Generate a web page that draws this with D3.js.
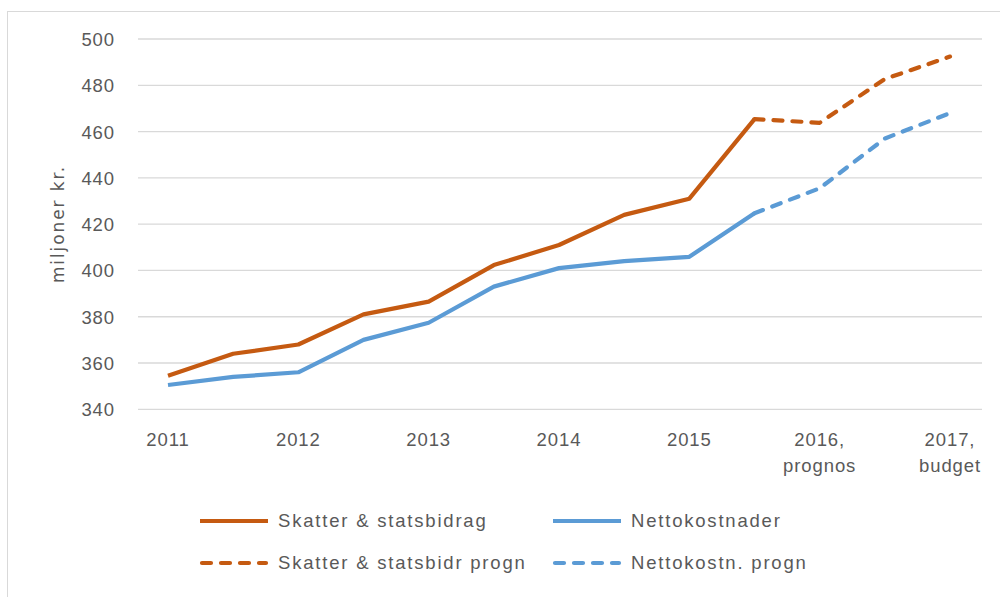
<!DOCTYPE html>
<html><head><meta charset="utf-8">
<script src="https://cdn.jsdelivr.net/npm/d3@7"></script>
<style>body{margin:0;background:#fff}svg{display:block}</style>
</head><body>
<svg id="c" width="1000" height="597"></svg>
<script>
const points = ["2011","2011b","2012","2012b","2013","2013b","2014","2014b","2015","2015b","2016","2016b","2017"];
const tickLabels = [["2011"],["2012"],["2013"],["2014"],["2015"],["2016,","prognos"],["2017,","budget"]];
const tickPoints = ["2011","2012","2013","2014","2015","2016","2017"];
const skatter = [354.5,364,368,381,386.5,402.3,411,424,431,465.4,null,null,null];
const skatterProgn = [null,null,null,null,null,null,null,null,null,465.4,463.8,482.7,492.4];
const netto = [350.5,354,356,370,377.4,393,401,404,405.9,424.7,null,null,null];
const nettoProgn = [null,null,null,null,null,null,null,null,null,424.7,435.5,457,468];
const yTicks = [340,360,380,400,420,440,460,480,500];
const seriesNames = ["Skatter & statsbidrag","Nettokostnader","Skatter & statsbidr progn","Nettokostn. progn"];

const orange = "#C55A11", blue = "#5B9BD5", txt = "#595959";
const font = "'Liberation Sans', Arial, sans-serif";
const fs = 18.5, ls = 0.9;
const svg = d3.select("#c");

svg.append("rect").attr("x",7.5).attr("y",11.5).attr("width",1000).attr("height",600)
  .attr("fill","#fff").attr("stroke","#d9d9d9").attr("stroke-width",1);

const x = d3.scalePoint().domain(points).range([168,950]);
const y = d3.scaleLinear().domain([340,500]).range([409.3,39]);

// gridlines
svg.append("g").selectAll("line").data(yTicks).join("line")
  .attr("x1",138).attr("x2",982).attr("y1",d=>y(d)).attr("y2",d=>y(d))
  .attr("stroke","#d9d9d9").attr("stroke-width",1.3);

// y axis labels
const yAxis = d3.axisLeft(y).tickValues(yTicks).tickSize(0).tickPadding(0);
const gy = svg.append("g").attr("transform","translate(115,0)").call(yAxis);
gy.select(".domain").remove();
gy.selectAll("text").attr("font-family",font).attr("font-size",fs).attr("letter-spacing",ls)
  .attr("fill",txt).attr("dy","0.35em");

// y title
svg.append("text").attr("transform","translate(64,224) rotate(-90)")
  .attr("text-anchor","middle").attr("font-family","'DejaVu Sans', sans-serif").attr("font-size",17)
  .attr("fill",txt).attr("letter-spacing",1.9).text("miljoner kr.");

// x labels
const xl = svg.append("g");
tickPoints.forEach((p,i)=>{
  const t = xl.append("text").attr("x",x(p)).attr("y",446).attr("text-anchor","middle")
    .attr("font-family",font).attr("font-size",fs).attr("letter-spacing",ls).attr("fill",txt);
  tickLabels[i].forEach((s,j)=>t.append("tspan").attr("x",x(p)).attr("dy",j?26:0).text(s));
});

const line = d3.line().defined(d=>d!=null).x((d,i)=>x(points[i])).y(d=>y(d));
function draw(data,color,dash){
  svg.append("path").datum(data).attr("d",line).attr("fill","none").attr("stroke",color)
    .attr("stroke-width",4.2).attr("stroke-linejoin","round")
    .attr("stroke-linecap",dash?"round":"butt")
    .attr("stroke-dasharray",dash?"9,10":null);
}
draw(skatter,orange,false);
draw(netto,blue,false);
draw(skatterProgn,orange,true);
draw(nettoProgn,blue,true);

// legend
const legend = [
  {name:seriesNames[0],color:orange,dash:false,x:200,y:521},
  {name:seriesNames[1],color:blue,dash:false,x:553,y:521},
  {name:seriesNames[2],color:orange,dash:true,x:200,y:563},
  {name:seriesNames[3],color:blue,dash:true,x:553,y:563}
];
legend.forEach(l=>{
  svg.append("line").attr("x1",l.x+(l.dash?2:0)).attr("x2",l.x+68-(l.dash?2:0)).attr("y1",l.y).attr("y2",l.y)
    .attr("stroke",l.color).attr("stroke-width",4.2)
    .attr("stroke-linecap",l.dash?"round":"butt").attr("stroke-dasharray",l.dash?"9,10":null);
  svg.append("text").attr("x",l.x+78).attr("y",l.y).attr("dy","0.35em")
    .attr("font-family",font).attr("font-size",fs).attr("letter-spacing",1.8).attr("fill",txt).text(l.name);
});
</script>
</body></html>
